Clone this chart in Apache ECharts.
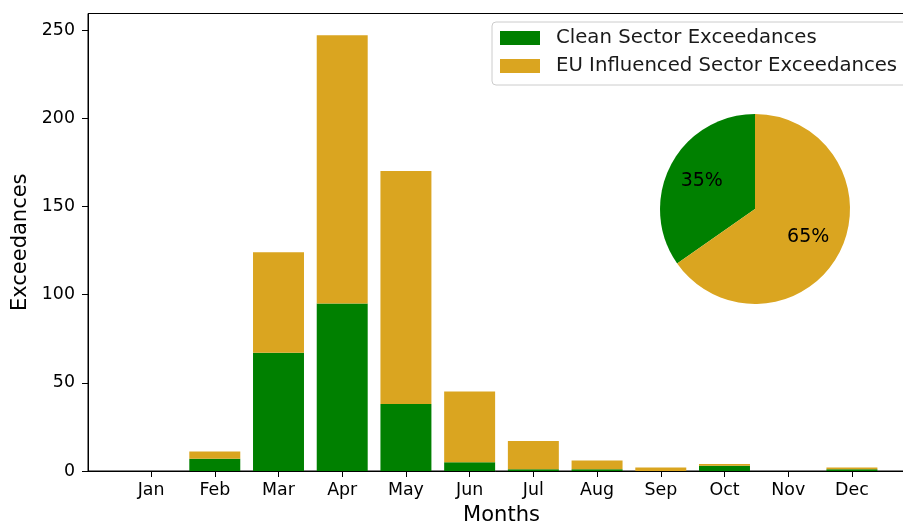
<!DOCTYPE html>
<html>
<head>
<meta charset="utf-8">
<script src="https://cdn.jsdelivr.net/npm/echarts@6/dist/echarts.min.js"></script>
<style>
  html, body { margin: 0; padding: 0; background: #fff; overflow: hidden; }
  #chart { width: 903px; height: 525px; }
</style>
</head>
<body>
<div id="chart"></div>
<script>
// Monthly exceedance counts, split by air-mass sector
const months = ['Jan', 'Feb', 'Mar', 'Apr', 'May', 'Jun', 'Jul', 'Aug', 'Sep', 'Oct', 'Nov', 'Dec'];
const cleanSector = [0, 7, 67, 95, 38, 5, 1, 1, 0, 3, 0, 1];
const euSector    = [0, 4, 57, 152, 132, 40, 16, 5, 2, 1, 0, 1];
const yTicks = [0, 50, 100, 150, 200, 250];

const seriesNames = ['Clean Sector Exceedances', 'EU Influenced Sector Exceedances'];
const colors = ['#008000', '#DAA520'];
const FONT = 'DejaVu Sans';

const total = a => a.reduce((s, v) => s + v, 0);
const cleanTotal = total(cleanSector);
const euTotal = total(euSector);

// Axis extents: bars are 0.8 wide, x padded 5%, y padded 5% above the tallest stack
const BAR = 0.8;
const xPad = 0.05 * ((months.length - 1) + BAR);
const xMin = -BAR / 2 - xPad;
const xMax = (months.length - 1) + BAR / 2 + xPad;
const stackMax = Math.max(...cleanSector.map((v, i) => v + euSector[i]));
const yMax = stackMax * 1.05;

// Each row: [monthIndex, bottom, top]; the second series sits on the first
const cleanRows = cleanSector.map((v, i) => [i, 0, v]);
const euRows = euSector.map((v, i) => [i, cleanSector[i], cleanSector[i] + v]);

// Stacked bar segment drawn through the cartesian scales
function renderSegment(params, api) {
  const i = api.value(0);
  const lo = api.coord([i, api.value(1)]);
  const hi = api.coord([i, api.value(2)]);
  const w = api.size([BAR, 0])[0];
  return {
    type: 'rect',
    shape: { x: lo[0] - w / 2, y: hi[1], width: w, height: lo[1] - hi[1] },
    style: api.style()
  };
}

const pieCenter = [755, 209];
const pieR = 95;

const chart = echarts.init(document.getElementById('chart'), null, { renderer: 'canvas' });

chart.setOption({
  animation: false,
  textStyle: { fontFamily: FONT },
  grid: {
    left: 88, right: -12, top: 13.5, bottom: 54,
    outerBoundsMode: 'none', containLabel: false,
    show: true, borderColor: '#000', borderWidth: 1, backgroundColor: 'transparent'
  },
  legend: {
    orient: 'vertical',
    left: 492, top: 22,
    padding: [6, 12, 9, 8],
    itemWidth: 40, itemHeight: 14, itemGap: 8,
    backgroundColor: 'rgba(255,255,255,0.8)',
    borderColor: '#cccccc', borderWidth: 1, borderRadius: 4,
    data: seriesNames.map(n => ({ name: n, icon: 'rect' })),
    formatter: n => '{t|' + n + '}',
    textStyle: {
      rich: { t: { fontFamily: FONT, fontSize: 19.7, color: '#1a1a1a', padding: [0, 0, 0, 11], lineHeight: 20 } }
    }
  },
  xAxis: {
    type: 'value', min: xMin, max: xMax,
    name: 'Months', nameLocation: 'middle', nameGap: 34,
    nameTextStyle: { fontFamily: FONT, fontSize: 21, color: '#000', verticalAlign: 'top' },
    axisLine: { show: true, onZero: false, lineStyle: { color: '#000', width: 1 } },
    axisTick: { show: true, length: 6, lineStyle: { color: '#000' }, customValues: months.map((_, i) => i) },
    axisLabel: {
      customValues: months.map((_, i) => i),
      formatter: v => months[Math.round(v)],
      fontFamily: FONT, fontSize: 17.4, color: '#000', margin: 11
    },
    splitLine: { show: false }
  },
  yAxis: {
    type: 'value', min: 0, max: yMax,
    name: 'Exceedances', nameLocation: 'middle', nameGap: 56, nameRotate: 90,
    nameTextStyle: { fontFamily: FONT, fontSize: 21, color: '#000' },
    axisLine: { show: true, onZero: false, lineStyle: { color: '#000', width: 1 } },
    axisTick: { show: true, length: 6, lineStyle: { color: '#000' }, customValues: yTicks },
    axisLabel: { customValues: yTicks, fontFamily: FONT, fontSize: 17.4, color: '#000', margin: 13 },
    splitLine: { show: false }
  },
  series: [
    {
      name: seriesNames[0], type: 'custom', renderItem: renderSegment,
      itemStyle: { color: colors[0] },
      encode: { x: 0, y: [1, 2] },
      data: cleanRows
    },
    {
      name: seriesNames[1], type: 'custom', renderItem: renderSegment,
      itemStyle: { color: colors[1] },
      encode: { x: 0, y: [1, 2] },
      data: euRows
    },
    {
      // share of annual exceedances by sector
      type: 'pie', center: pieCenter, radius: pieR,
      startAngle: 90, clockwise: false, silent: true,
      label: { show: false }, labelLine: { show: false },
      emphasis: { disabled: true },
      data: [
        { name: 'Clean', value: cleanTotal, itemStyle: { color: colors[0] } },
        { name: 'EU Influenced', value: euTotal, itemStyle: { color: colors[1] } }
      ]
    },
    {
      // percentage labels placed at 0.6 of the pie radius
      type: 'pie', center: pieCenter, radius: pieR * 1.2,
      startAngle: 90, clockwise: false, silent: true,
      percentPrecision: 0,
      itemStyle: { color: 'rgba(0,0,0,0)' },
      label: {
        show: true, position: 'inside', formatter: '{d}%',
        fontFamily: FONT, fontSize: 19, color: '#000'
      },
      labelLine: { show: false },
      emphasis: { disabled: true },
      data: [
        { name: 'Clean share', value: cleanTotal },
        { name: 'EU share', value: euTotal }
      ]
    }
  ]
});
</script>
</body>
</html>
